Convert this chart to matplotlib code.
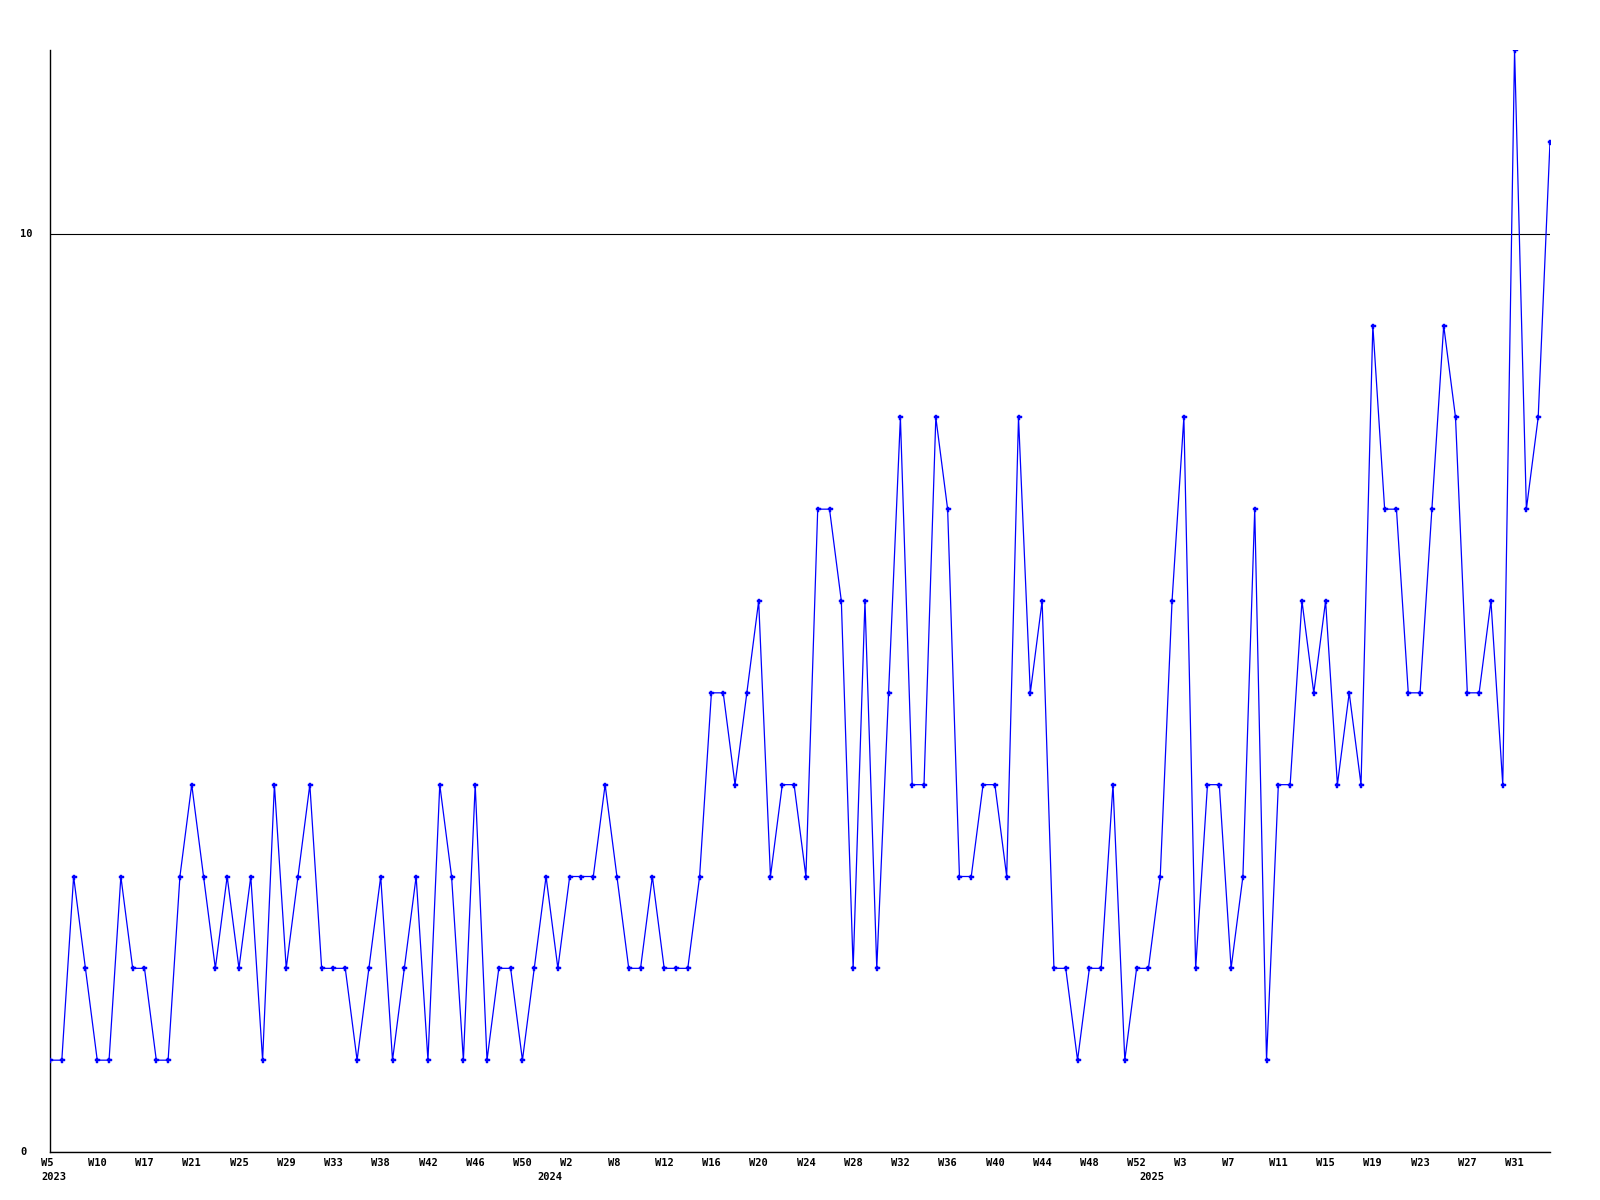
import matplotlib
matplotlib.use("Agg")
import matplotlib.pyplot as plt
from matplotlib.transforms import blended_transform_factory

# Weekly counts (one point per week with data)
values = [
    1, 1, 3, 2, 1, 1, 3, 2, 2, 1, 1, 3, 4, 3, 2, 3, 2, 3, 1, 4,
    2, 3, 4, 2, 2, 2, 1, 2, 3, 1, 2, 3, 1, 4, 3, 1, 4, 1, 2, 2,
    1, 2, 3, 2, 3, 3, 3, 4, 3, 2, 2, 3, 2, 2, 2, 3, 5, 5, 4, 5,
    6, 3, 4, 4, 3, 7, 7, 6, 2, 6, 2, 5, 8, 4, 4, 8, 7, 3, 3, 4,
    4, 3, 8, 5, 6, 2, 2, 1, 2, 2, 4, 1, 2, 2, 3, 6, 8, 2, 4, 4,
    2, 3, 7, 1, 4, 4, 6, 5, 6, 4, 5, 4, 9, 7, 7, 5, 5, 7, 9, 8,
    5, 5, 6, 4, 12, 7, 8, 11,
]

# Tick labels, one every 4 points
week_labels = [
    "W5", "W10", "W17", "W21", "W25", "W29", "W33", "W38", "W42", "W46",
    "W50", "W2", "W8", "W12", "W16", "W20", "W24", "W28", "W32", "W36",
    "W40", "W44", "W48", "W52", "W3", "W7", "W11", "W15", "W19", "W23",
    "W27", "W31",
]
year_labels = ["2023", "2024", "2025"]
year_positions = [0.3, 42.3, 93.3]

y_ticks = [0, 10]

W, H = 1600, 1200
fig = plt.figure(figsize=(16, 12), dpi=100)
ax = fig.add_axes([50 / W, 48 / H, 1500 / W, 1102 / H])

x = list(range(len(values)))
ax.plot(x, values, color="#0000ff", lw=0.9, marker="P", ms=3.6,
        mec="#0000ff", mfc="#0000ff", mew=0.3, zorder=3)

ax.set_xlim(0, len(values) - 1)
ax.set_ylim(0, 12)

font = dict(family="DejaVu Sans Mono", weight="bold", size=7.5)

# labels are laid out in 3-character cells (monospace), as in the original
ax.set_xticks(list(range(0, 4 * len(week_labels), 4)))
ax.set_xticklabels([w.ljust(3) for w in week_labels], **font)
ax.tick_params(axis="x", length=0, pad=4)

ax.set_yticks(y_ticks)
ax.set_yticklabels([str(v) for v in y_ticks], **font)
for lbl in ax.get_yticklabels():
    lbl.set_horizontalalignment("left")
    lbl.set_verticalalignment("center")
ax.tick_params(axis="y", length=0, pad=21.6)

ax.grid(axis="y", color="black", lw=0.8)
ax.grid(axis="x", visible=False)

for s in ["top", "right"]:
    ax.spines[s].set_visible(False)
for s in ["left", "bottom"]:
    ax.spines[s].set_color("black")
    ax.spines[s].set_linewidth(1.0)

trans = blended_transform_factory(ax.transData, fig.transFigure)
for lab, pos in zip(year_labels, year_positions):
    ax.text(pos, (H - 1177) / H, lab, transform=trans, ha="center",
            va="center", clip_on=False, **font)

fig.savefig("out.png", dpi=100, facecolor="white")
